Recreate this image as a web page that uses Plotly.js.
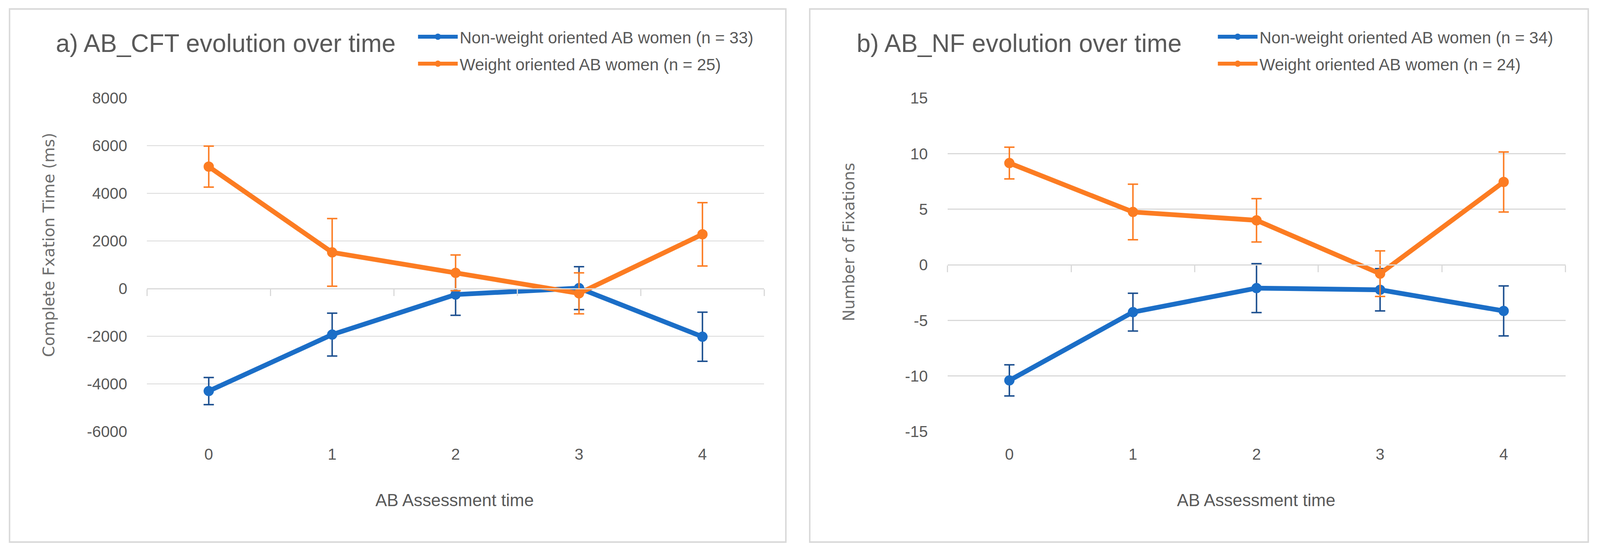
<!DOCTYPE html>
<html>
<head>
<meta charset="utf-8">
<script src="https://cdn.plot.ly/plotly-3.0.1.min.js"></script>
<style>
  html, body { margin: 0; padding: 0; background: #ffffff; overflow: hidden; }
  #chart { position: absolute; left: 0; top: 0; }
</style>
</head>
<body>
<div id="chart"></div>
<script>
// ---------------- DATA ----------------
const categories = ['0', '1', '2', '3', '4'];

// Panel a) AB_CFT (ms)
const cftNonWeight    = [-4300, -1930, -250, 20, -2020];
const cftNonWeightErr = [570, 900, 870, 900, 1030];
const cftWeight       = [5120, 1520, 660, -200, 2280];
const cftWeightErr    = [860, 1420, 750, 860, 1330];

// Panel b) AB_NF (number of fixations)
const nfNonWeight    = [-10.4, -4.26, -2.1, -2.25, -4.15];
const nfNonWeightErr = [1.4, 1.7, 2.2, 1.9, 2.25];
const nfWeight       = [9.15, 4.75, 4.0, -0.8, 7.45];
const nfWeightErr    = [1.43, 2.5, 1.95, 2.05, 2.7];

const namesA = ['Non-weight oriented AB women (n = 33)', 'Weight oriented AB women (n = 25)'];
const namesB = ['Non-weight oriented AB women (n = 34)', 'Weight oriented AB women (n = 24)'];

const titleA = 'a) AB_CFT evolution over time';
const titleB = 'b) AB_NF evolution over time';
const xTitle = 'AB Assessment time';
const yTitleA = 'Complete Fxation Time (ms)';
const yTitleB = 'Number of Fixations';

const cftTicks = [-6000, -4000, -2000, 0, 2000, 4000, 6000, 8000];
const nfTicks  = [-15, -10, -5, 0, 5, 10, 15];

// ---------------- STYLE / LAYOUT ----------------
// design coordinates are for a 4353 x 1416 canvas; stretch to fill the real viewport
const BW = 4353, BH = 1416;
const vw = window.innerWidth || document.documentElement.clientWidth || BW;
const vh = window.innerHeight || document.documentElement.clientHeight || BH;
const W = vw, H = vh;
const sx = W / BW, sy = H / BH;
const f = Math.min(sx, sy);
const S = v => v * f;
const px = v => v / BW;
const py = v => 1 - v / BH;

const BLUE = '#1b6ec7', BLUE_ERR = '#1c4f8f';
const ORANGE = '#fc7c22', ORANGE_ERR = '#fc7c22';
const GRID = '#d9d9d9';
const TXT = '#595959';
const FONT = '"Liberation Sans", Arial, sans-serif';
const FONT_Y = '"DejaVu Sans", Verdana, sans-serif';

const yDom = [py(1105), py(251)];
const xDomA = [px(400), px(2079)];
const xDomB = [px(2578), px(4259)];

const cftRange = [cftTicks[0], cftTicks[cftTicks.length - 1]];
const nfRange = [nfTicks[0], nfTicks[nfTicks.length - 1]];
const zeroPos = r => yDom[0] + (0 - r[0]) / (r[1] - r[0]) * (yDom[1] - yDom[0]);

function series(x, y, err, name, color, errColor, xa, ya, leg, grp) {
  return {
    x: x, y: y, name: name, type: 'scatter', mode: 'lines+markers',
    xaxis: xa, yaxis: ya, legend: leg, legendgroup: grp,
    line: { color: color, width: S(13) },
    marker: { color: color, size: S(28) },
    error_y: { type: 'data', array: err, visible: true, color: errColor, thickness: S(4), width: S(14) },
    hoverinfo: 'x+y'
  };
}

const boundaries = [-0.5, 0.5, 1.5, 2.5, 3.5, 4.5];

const data = [
  series(categories, cftNonWeight, cftNonWeightErr, namesA[0], BLUE, BLUE_ERR, 'x', 'y', 'legend', 'a1'),
  series(categories, cftWeight, cftWeightErr, namesA[1], ORANGE, ORANGE_ERR, 'x', 'y', 'legend', 'a2'),
  series(categories, nfNonWeight, nfNonWeightErr, namesB[0], BLUE, BLUE_ERR, 'x2', 'y2', 'legend2', 'b1'),
  series(categories, nfWeight, nfWeightErr, namesB[1], ORANGE, ORANGE_ERR, 'x2', 'y2', 'legend2', 'b2'),
  // empty helpers so the zero-line category axes are drawn
  { x: [], y: [], xaxis: 'x3', yaxis: 'y', type: 'scatter', showlegend: false, hoverinfo: 'skip' },
  { x: [], y: [], xaxis: 'x4', yaxis: 'y2', type: 'scatter', showlegend: false, hoverinfo: 'skip' }
];

function catAxis(dom, anchor) {
  return {
    domain: dom, anchor: anchor, type: 'category', range: [-0.5, 4.5],
    showgrid: false, zeroline: false, showline: false,
    ticks: 'outside', ticklen: 22 * sy, tickcolor: 'rgba(0,0,0,0)',
    tickfont: { family: FONT, size: S(43), color: TXT },
    fixedrange: true
  };
}
function zeroAxis(over, pos) {
  return {
    overlaying: over, anchor: 'free', position: pos, type: 'linear', range: [-0.5, 4.5],
    showgrid: false, zeroline: false, showline: true, linecolor: GRID, linewidth: S(3),
    tickmode: 'array', tickvals: boundaries, ticks: 'outside', ticklen: 17 * sy, tickwidth: S(3), tickcolor: GRID,
    showticklabels: false, fixedrange: true
  };
}
function valAxis(dom, anchor, ticks) {
  return {
    domain: dom, anchor: anchor, range: [ticks[0], ticks[ticks.length - 1]],
    tickmode: 'array', tickvals: ticks, ticktext: ticks.map(String),
    showgrid: true, gridcolor: GRID, gridwidth: S(3),
    zeroline: false, showline: false,
    ticks: 'outside', ticklen: 44 * sx, tickcolor: 'rgba(0,0,0,0)',
    tickfont: { family: FONT, size: S(43), color: TXT },
    fixedrange: true
  };
}

function legendAt(x, y) {
  return {
    x: x, y: y, xanchor: 'left', yanchor: 'top',
    font: { family: FONT, size: S(45), color: TXT },
    bgcolor: 'rgba(0,0,0,0)', borderwidth: 0,
    traceorder: 'grouped', tracegroupgap: 11 * sy, itemwidth: Math.max(30, 108 * sx),
    itemclick: false, itemdoubleclick: false
  };
}

function txt(text, x, y, size, family, color, extra) {
  return Object.assign({
    text: text, x: x, y: y, xref: 'paper', yref: 'paper', showarrow: false,
    font: { family: family, size: S(size), color: color }
  }, extra || {});
}

const layout = {
  width: W, height: H,
  margin: { l: 0, r: 0, t: 0, b: 0 },
  paper_bgcolor: '#ffffff', plot_bgcolor: 'rgba(0,0,0,0)',
  showlegend: true,
  xaxis: catAxis(xDomA, 'y'),
  yaxis: valAxis(yDom, 'x', cftTicks),
  xaxis2: catAxis(xDomB, 'y2'),
  yaxis2: valAxis(yDom, 'x2', nfTicks),
  xaxis3: zeroAxis('x', zeroPos(cftRange)),
  xaxis4: zeroAxis('x2', zeroPos(nfRange)),
  legend: legendAt(px(1132), py(60)),
  legend2: legendAt(px(3308), py(60)),
  shapes: [
    { type: 'rect', xref: 'paper', yref: 'paper', x0: px(26), x1: px(2138), y0: py(1388), y1: py(23),
      line: { color: GRID, width: S(4) }, fillcolor: 'rgba(0,0,0,0)', layer: 'below' },
    { type: 'rect', xref: 'paper', yref: 'paper', x0: px(2203), x1: px(4321), y0: py(1388), y1: py(23),
      line: { color: GRID, width: S(4) }, fillcolor: 'rgba(0,0,0,0)', layer: 'below' }
  ],
  annotations: [
    txt(titleA, px(150), py(111), 68, FONT, TXT, { xanchor: 'left', yanchor: 'middle' }),
    txt(titleB, px(2328), py(111), 68, FONT, TXT, { xanchor: 'left', yanchor: 'middle' }),
    txt(xTitle, px(1237), py(1280), 47, FONT, TXT, { xanchor: 'center', yanchor: 'middle' }),
    txt(xTitle, px(3417), py(1280), 47, FONT, TXT, { xanchor: 'center', yanchor: 'middle' }),
    txt(yTitleA, px(133), py(627), 43, FONT_Y, '#6e6e6e', { xanchor: 'center', yanchor: 'middle', textangle: -90 }),
    txt(yTitleB, px(2309), py(620), 43, FONT_Y, '#6e6e6e', { xanchor: 'center', yanchor: 'middle', textangle: -90 })
  ]
};

document.getElementById('chart').style.width = W + 'px';
document.getElementById('chart').style.height = H + 'px';
Plotly.newPlot('chart', data, layout, { staticPlot: true, displayModeBar: false });
</script>
</body>
</html>
